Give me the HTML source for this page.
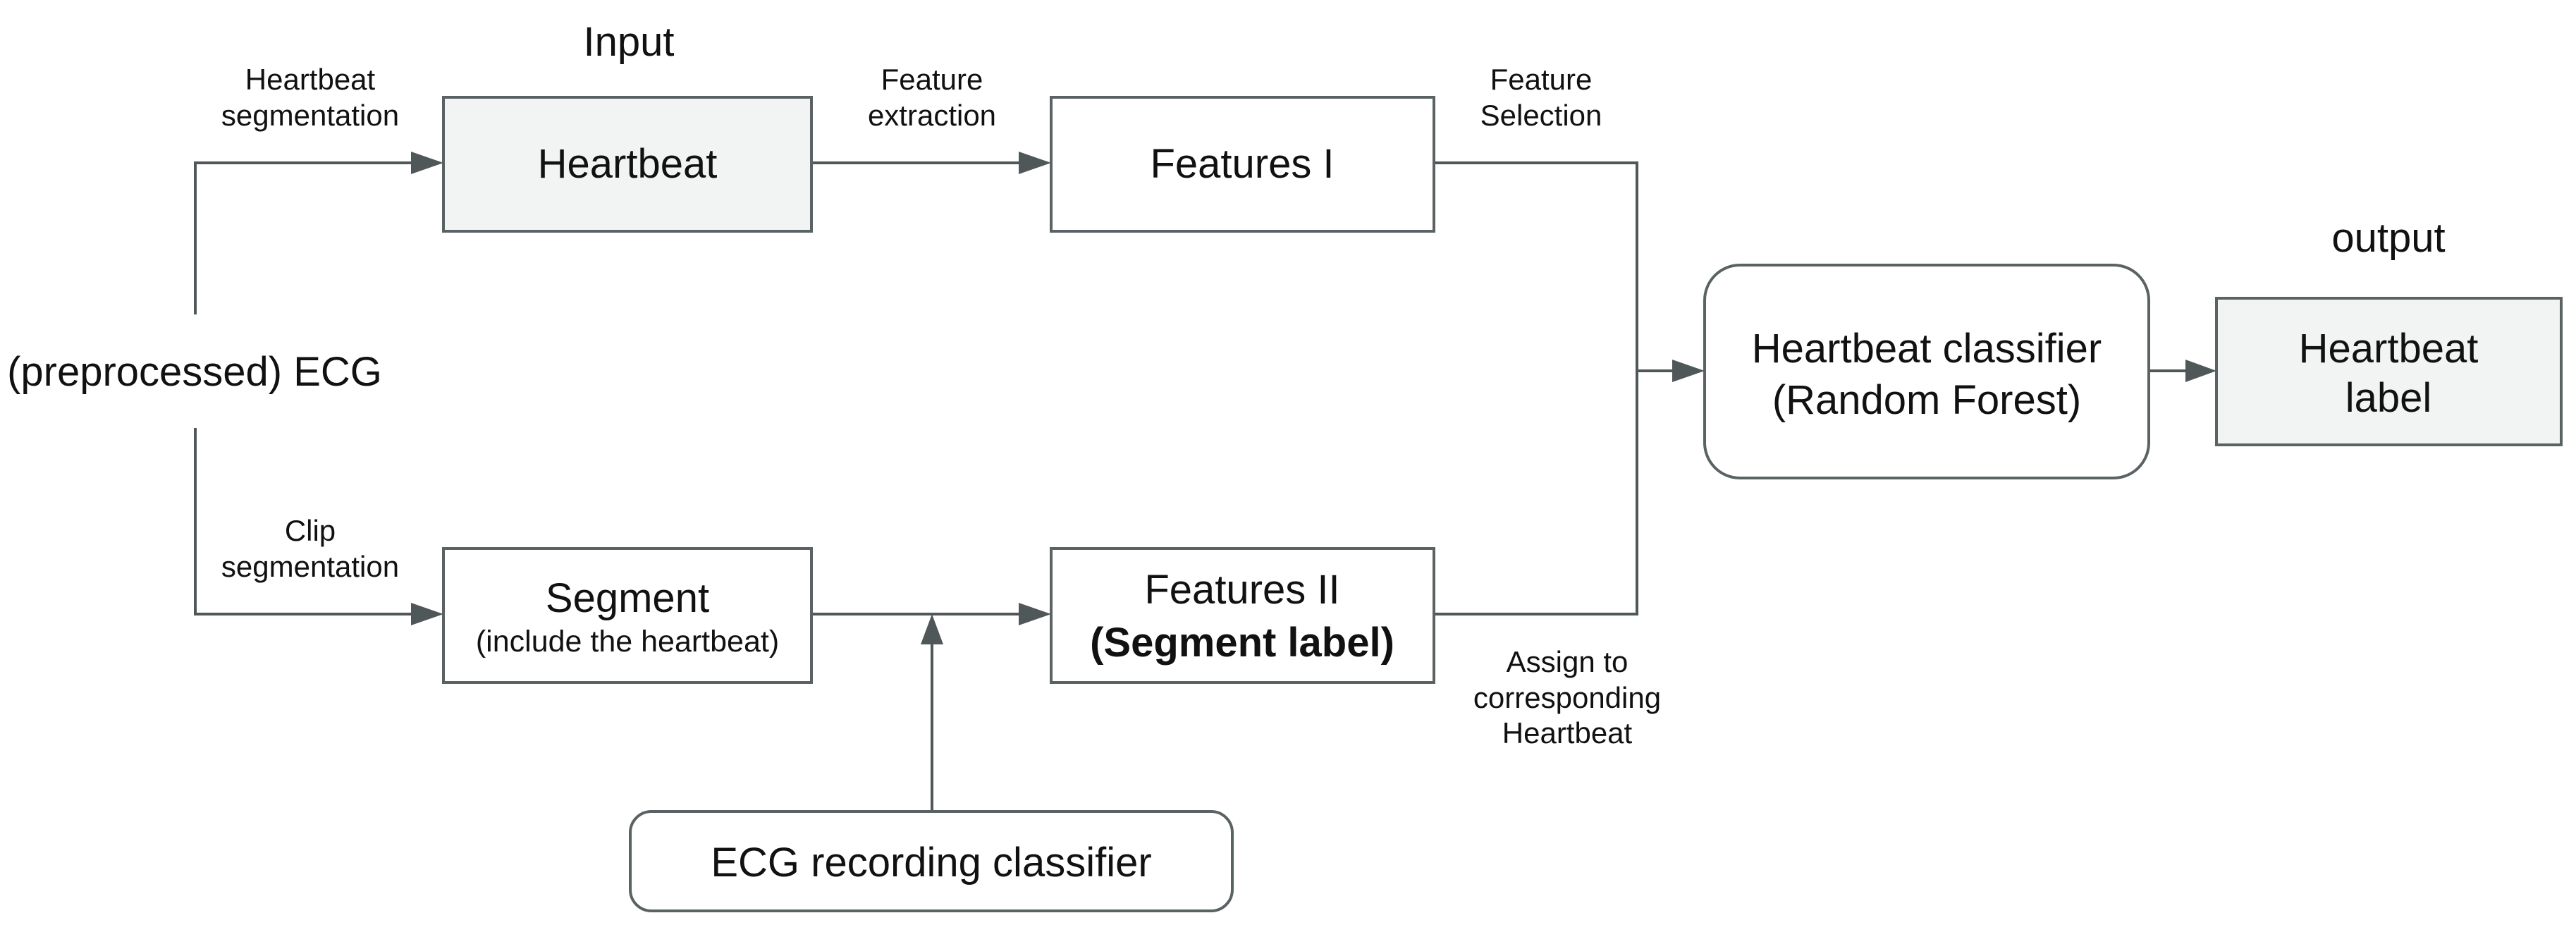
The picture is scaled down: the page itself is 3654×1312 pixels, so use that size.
<!DOCTYPE html>
<html><head><meta charset="utf-8"><style>
html,body{margin:0;padding:0;background:#fff;}
svg{display:block;}
text{font-family:"Liberation Sans",Arial,sans-serif;fill:#111;}
</style></head><body>
<svg width="3654" height="1312" viewBox="0 0 3654 1312" xmlns="http://www.w3.org/2000/svg">
<defs>
<marker id="ah" markerWidth="12" markerHeight="10" refX="11" refY="5" orient="auto" markerUnits="userSpaceOnUse" viewBox="0 0 12 10">
</marker>
</defs>
<g stroke="#4f5759" stroke-width="4" fill="none">
  <!-- ECG up branch -->
  <polyline points="277,446 277,231 585,231"/>
  <polyline points="277,607 277,871 585,871"/>
  <line x1="1151" y1="231" x2="1447" y2="231"/>
  <line x1="1151" y1="871" x2="1447" y2="871"/>
  <line x1="1322" y1="1149" x2="1322" y2="912"/>
  <polyline points="2034,231 2322,231 2322,871 2034,871"/>
  <line x1="2322" y1="526" x2="2374" y2="526"/>
  <line x1="3048" y1="526" x2="3104" y2="526"/>
</g>
<g fill="#4f5759">
  <polygon points="583,215 629,231 583,247"/>
  <polygon points="583,855 629,871 583,887"/>
  <polygon points="1445,215 1491,231 1445,247"/>
  <polygon points="1445,855 1491,871 1445,887"/>
  <polygon points="1306,914 1322,871 1338,914"/>
  <polygon points="2372,510 2418,526 2372,542"/>
  <polygon points="3100,510 3144,526 3100,542"/>
</g>
<g stroke="#5a6264" stroke-width="4">
  <rect x="629" y="138" width="522" height="190" fill="#f1f4f2"/>
  <rect x="1491" y="138" width="543" height="190" fill="#fff"/>
  <rect x="629" y="778" width="522" height="190" fill="#fff"/>
  <rect x="1491" y="778" width="543" height="190" fill="#fff"/>
  <rect x="2418" y="376" width="630" height="302" rx="50" ry="50" fill="#fff"/>
  <rect x="3144" y="423" width="489" height="208" fill="#f1f4f2"/>
  <rect x="894" y="1151" width="854" height="141" rx="30" ry="30" fill="#fff"/>
</g>
<g font-size="58" text-anchor="middle">
  <text x="892" y="79">Input</text>
  <text x="3388" y="357">output</text>
  <text x="276" y="547">(preprocessed) ECG</text>
  <text x="890" y="252">Heartbeat</text>
  <text x="1762" y="252">Features I</text>
  <text x="890" y="868">Segment</text>
  <text x="1762" y="856">Features II</text>
  <text x="1762" y="931" font-weight="bold">(Segment label)</text>
  <text x="2733" y="514">Heartbeat classifier</text>
  <text x="2733" y="587">(Random Forest)</text>
  <text x="3388" y="514">Heartbeat</text>
  <text x="3388" y="584">label</text>
  <text x="1321" y="1243">ECG recording classifier</text>
</g>
<g font-size="42" text-anchor="middle">
  <text x="440" y="127">Heartbeat</text>
  <text x="440" y="178">segmentation</text>
  <text x="1322" y="127">Feature</text>
  <text x="1322" y="178">extraction</text>
  <text x="2186" y="127">Feature</text>
  <text x="2186" y="178">Selection</text>
  <text x="440" y="767">Clip</text>
  <text x="440" y="818">segmentation</text>
  <text x="890" y="924" font-size="43">(include the heartbeat)</text>
  <text x="2223" y="953">Assign to</text>
  <text x="2223" y="1004">corresponding</text>
  <text x="2223" y="1054">Heartbeat</text>
</g>
</svg>
</body></html>
